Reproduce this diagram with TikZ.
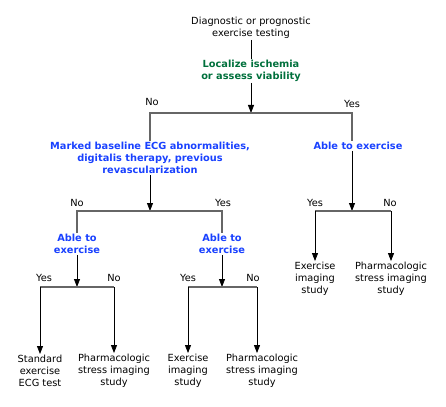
\documentclass[tikz,border=0pt]{standalone}
\usepackage{fontspec}
\setmainfont{DejaVu Sans}
\usetikzlibrary{arrows.meta}

\definecolor{askgreen}{RGB}{0,112,60}
\definecolor{askblue}{RGB}{25,65,255}

\begin{document}
\begin{tikzpicture}[x=1pt, y=-1pt,
        plain/.style=
            {
                align = center,
                font = \fontsize{9.8}{12}\selectfont,
                inner sep = 1pt
            },
        decision/.style=
            {
                plain,
                font = \fontsize{9.8}{12}\selectfont\bfseries,
                text = askblue
            },
        question/.style=
            {
                decision,
                text = askgreen
            },
        answer/.style=
            {
                plain,
                inner sep = 0pt
            },
        branch/.style=
            {
                draw = black!60,
                line width = 1.2pt
            },
        stem/.style=
            {
                draw = black,
                line width = 0.8pt
            },
        flow/.style=
            {
                stem,
                -{Triangle[length=8pt,width=6pt]}
            }
    ]

    \useasboundingbox (0,0) rectangle (446,406);

    % questions
    \draw (251,28) node[plain] (test) {Diagnostic or prognostic\\exercise testing};
    \draw (251,71) node[question] (localize) {Localize ischemia\\or assess viability};
    \draw (150,158) node[decision] (ecg) {Marked baseline ECG abnormalities,\\digitalis therapy, previous\\revascularization};
    \draw (358,146) node[decision] (ableR) {Able to exercise};
    \draw (77,244) node[decision] (ableL) {Able to\\exercise};
    \draw (222,244) node[decision] (ableM) {Able to\\exercise};

    % outcomes
    \draw (40,371) node[plain] (std) {Standard\\exercise\\ECG test};
    \draw (114,371) node[plain] (pharmL) {Pharmacologic\\stress imaging\\study};
    \draw (188,371) node[plain] (imgM) {Exercise\\imaging\\study};
    \draw (262,371) node[plain] (pharmM) {Pharmacologic\\stress imaging\\study};
    \draw (315,279) node[plain] (imgR) {Exercise\\imaging\\study};
    \draw (391,279) node[plain] (pharmR) {Pharmacologic\\stress imaging\\study};

    % split points
    \coordinate (sA) at (251,113);
    \coordinate (sAno) at (150,113);
    \coordinate (sAyes) at (352,113);
    \coordinate (sB) at (150,211);
    \coordinate (sBno) at (77,211);
    \coordinate (sByes) at (222,211);
    \coordinate (sC) at (352,211);
    \coordinate (sCyes) at (315,211);
    \coordinate (sCno) at (391,211);
    \coordinate (sD) at (77,287);
    \coordinate (sDyes) at (40,287);
    \coordinate (sDno) at (114,287);
    \coordinate (sE) at (222,287);
    \coordinate (sEyes) at (188,287);
    \coordinate (sEno) at (257,287);

    % answers
    \draw (152,102) node[answer] (noA) {No};
    \draw (352,104) node[answer] (yesA) {Yes};
    \draw (77,203) node[answer] (noB) {No};
    \draw (223,203) node[answer] (yesB) {Yes};
    \draw (315,203) node[answer] (yesC) {Yes};
    \draw (390,203) node[answer] (noC) {No};
    \draw (44,278) node[answer] (yesD) {Yes};
    \draw (114,278) node[answer] (noD) {No};
    \draw (188,278) node[answer] (yesE) {Yes};
    \draw (253,278) node[answer] (noE) {No};

    % connectors
    \draw[stem] (test) -- (localize);
    \draw[flow] (localize) -- (sA);
    \draw[branch] (ecg.north) -- (sAno) -- (sAyes) -- (sAyes |- ableR.north);
    \draw[flow] (ecg) -- (sB);
    \draw[branch] (ableL.north) -- (sBno) -- (sByes) -- (ableM.north);
    \draw[flow] (sAyes |- ableR.south) -- (sC);
    \draw[branch] (sCyes) -- (sCno);
    \draw[flow] (sCyes) -- (imgR);
    \draw[flow] (sCno) -- (pharmR);
    \draw[flow] (ableL) -- (sD);
    \draw[branch] (sDyes) -- (sDno);
    \draw[flow] (sDyes) -- (std);
    \draw[flow] (sDno) -- (pharmL);
    \draw[flow] (ableM) -- (sE);
    \draw[branch] (sEyes) -- (sEno);
    \draw[flow] (sEyes) -- (imgM);
    \draw[flow] (sEno |- sE) -- (sEno |- pharmM.north);

\end{tikzpicture}
\end{document}
